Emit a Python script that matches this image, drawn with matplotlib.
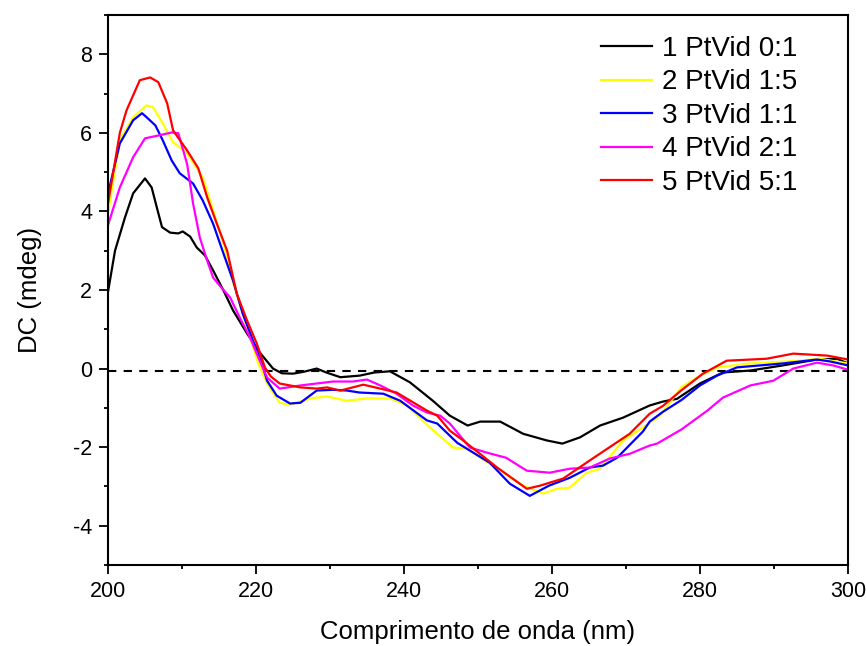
import matplotlib
matplotlib.use('Agg')
import matplotlib.pyplot as plt
from matplotlib.ticker import MultipleLocator

plt.rcParams['font.family'] = ['Liberation Sans', 'DejaVu Sans']
plt.rcParams['axes.unicode_minus'] = False

# CD spectra (wavelength nm, signal mdeg)
x_1 = [200, 200.95, 202.3, 203.4, 205.0, 205.9, 206.6, 207.3, 208.4, 209.5, 210.1, 211.1,
       212.0, 213.1, 214.2, 215.6, 216.9, 218.8, 220.5, 222.3, 223.5, 225.0, 226.5, 228.2,
       229.5, 231.4, 234.0, 236.0, 238.1, 240.8, 243.9, 246.2, 248.6, 250.3, 253.0, 256.1,
       259.3, 261.4, 263.8, 266.5, 269.6, 273.2, 275.0, 276.9, 280.0, 283.1, 286.8, 291.2,
       295.8, 298.5, 300]
y_1 = [1.95, 3.0, 3.85, 4.46, 4.84, 4.61, 4.1, 3.6, 3.46, 3.44, 3.49, 3.36,
       3.08, 2.88, 2.5, 1.99, 1.48, 0.89, 0.41, 0.0, -0.12, -0.13, -0.08, 0.0,
       -0.1, -0.22, -0.18, -0.1, -0.07, -0.35, -0.82, -1.2, -1.45, -1.35, -1.35, -1.66,
       -1.83, -1.91, -1.75, -1.45, -1.25, -0.94, -0.84, -0.77, -0.38, -0.1, -0.05, 0.08,
       0.23, 0.25, 0.13]

x_2 = [200, 201.6, 203.4, 205.2, 206.1, 207.4, 208.8, 210.7, 212.0, 212.8, 214.2, 215.6,
       216.9, 218.2, 220.3, 221.5, 223.2, 224.6, 227.3, 229.6, 232.3, 235.0, 238.1, 240.4,
       243.5, 246.6, 248.5, 252.6, 256.1, 258.8, 260.7, 262.4, 264.7, 266.5, 269.6, 272.3,
       274.6, 277.5, 280.0, 282.3, 286.8, 293.5, 296.2, 300]
y_2 = [3.95, 5.81, 6.4, 6.7, 6.65, 6.24, 5.76, 5.48, 5.1, 4.87, 4.03, 3.18,
       2.2, 1.4, 0.13, -0.38, -0.87, -0.92, -0.76, -0.71, -0.82, -0.76, -0.76, -0.94,
       -1.5, -2.01, -2.04, -2.55, -2.98, -3.18, -3.06, -3.03, -2.65, -2.55, -1.83, -1.5,
       -1.2, -0.47, -0.18, 0.03, 0.13, 0.2, 0.25, 0.13]

x_3 = [200, 201.6, 203.4, 204.6, 205.2, 206.4, 207.4, 208.6, 209.7, 211.5, 212.8, 214.2,
       215.6, 216.9, 218.2, 219.6, 220.8, 221.5, 222.8, 224.6, 226.0, 228.2, 230.4, 232.3,
       234.0, 237.2, 239.5, 243.1, 244.5, 246.2, 247.2, 251.6, 254.3, 257.0, 259.6, 262.4,
       265.1, 266.9, 268.8, 272.3, 273.2, 275.0, 277.5, 280.0, 282.3, 285.0, 291.2, 295.8,
       297.6, 300]
y_3 = [4.45, 5.73, 6.32, 6.5, 6.4, 6.19, 5.81, 5.3, 4.97, 4.71, 4.28, 3.69,
       2.93, 2.24, 1.4, 0.71, 0.13, -0.31, -0.69, -0.89, -0.87, -0.56, -0.54, -0.56,
       -0.61, -0.64, -0.82, -1.32, -1.4, -1.71, -1.89, -2.4, -2.93, -3.24, -2.98, -2.78,
       -2.52, -2.47, -2.27, -1.6, -1.35, -1.1, -0.8, -0.43, -0.18, 0.03, 0.13, 0.23,
       0.18, 0.08]

x_4 = [200, 201.6, 203.4, 205.0, 207.0, 208.6, 209.5, 210.7, 211.5, 212.4, 213.4, 214.2,
       215.1, 216.5, 217.8, 219.2, 220.5, 221.5, 223.2, 226.0, 228.2, 230.4, 233.1, 235.0,
       236.8, 239.0, 241.2, 243.1, 244.9, 246.2, 248.9, 251.2, 253.8, 256.6, 259.7, 262.4,
       265.1, 267.8, 270.5, 273.2, 274.2, 277.5, 281.0, 283.1, 286.8, 289.9, 292.6, 295.8,
       298.0, 300]
y_4 = [3.65, 4.61, 5.38, 5.86, 5.94, 6.01, 5.99, 5.2, 4.2, 3.34, 2.75, 2.32,
       2.11, 1.81, 1.3, 0.79, 0.2, -0.23, -0.51, -0.43, -0.38, -0.33, -0.33, -0.28,
       -0.43, -0.64, -0.94, -1.12, -1.2, -1.4, -2.01, -2.14, -2.27, -2.6, -2.65, -2.55,
       -2.52, -2.29, -2.17, -1.96, -1.91, -1.55, -1.07, -0.74, -0.43, -0.31, 0.0, 0.15,
       0.08, -0.03]

x_5 = [200, 201.6, 202.5, 204.3, 205.7, 206.8, 208.0, 208.8, 210.7, 212.2, 213.4, 214.7,
       216.1, 217.4, 218.8, 220.1, 221.2, 222.0, 223.2, 226.0, 228.2, 229.6, 231.4, 234.5,
       236.8, 239.0, 243.1, 244.5, 246.2, 248.0, 252.6, 256.6, 258.4, 261.5, 265.1, 270.5,
       273.2, 275.0, 277.5, 280.4, 283.6, 289.0, 292.6, 297.2, 300]
y_5 = [4.2, 6.0, 6.57, 7.34, 7.41, 7.29, 6.75, 6.06, 5.55, 5.1, 4.36, 3.69,
       3.0, 1.91, 1.22, 0.64, 0.03, -0.2, -0.38, -0.48, -0.51, -0.48, -0.56, -0.41,
       -0.51, -0.61, -1.07, -1.2, -1.58, -1.83, -2.52, -3.06, -2.98, -2.8, -2.34, -1.66,
       -1.15, -0.95, -0.55, -0.13, 0.2, 0.25, 0.38, 0.33, 0.23]

labels = ['1 PtVid 0:1', '2 PtVid 1:5', '3 PtVid 1:1', '4 PtVid 2:1', '5 PtVid 5:1']
colors = ['black', '#ffff00', '#0000ff', '#ff00ff', '#ff0000']
baseline = -0.05

fig = plt.figure(figsize=(8.66, 6.46), dpi=100)
ax = fig.add_axes([0.1247, 0.1254, 0.8545, 0.8514])

series = [(x_1, y_1), (x_2, y_2), (x_3, y_3), (x_4, y_4), (x_5, y_5)]
for (xs, ys), lab, col in zip(series, labels, colors):
    ax.plot(xs, ys, color=col, lw=1.6, label=lab, solid_joinstyle='round')

ax.axhline(baseline, color='black', lw=1.5, linestyle=(0, (4, 3.5)), zorder=1)

ax.set_xlim(200, 300)
ax.set_ylim(-5, 9)
ax.xaxis.set_major_locator(MultipleLocator(20))
ax.xaxis.set_minor_locator(MultipleLocator(10))
ax.yaxis.set_major_locator(MultipleLocator(2))
ax.yaxis.set_minor_locator(MultipleLocator(1))

for sp in ax.spines.values():
    sp.set_linewidth(1.5)
ax.tick_params(which='major', direction='out', length=6.5, width=1.3, labelsize=15.5, pad=5)
ax.tick_params(which='minor', direction='out', length=3, width=1.3)

ax.set_xlabel('Comprimento de onda (nm)', fontsize=18.5, labelpad=13)
ax.set_ylabel('DC (mdeg)', fontsize=18.5, labelpad=22)

ax.legend(loc='upper left', bbox_to_anchor=(0.666, 0.962), frameon=False,
          fontsize=20, handlelength=1.85, handletextpad=0.35, labelspacing=0.27,
          borderpad=0, borderaxespad=0)

fig.savefig('out.png', dpi=100)
